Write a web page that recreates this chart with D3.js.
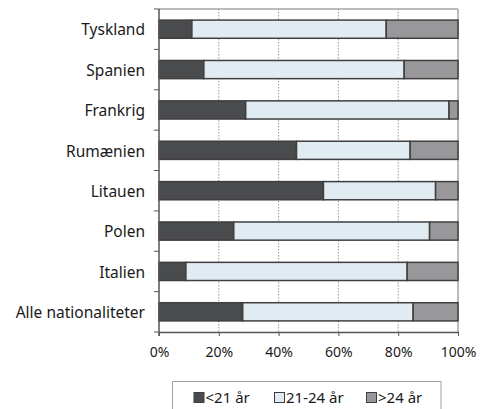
<!DOCTYPE html>
<html><head><meta charset="utf-8">
<script src="https://cdn.jsdelivr.net/npm/d3@7"></script>
<style>body{margin:0;background:#fff;} svg{display:block;}</style>
</head><body>
<script>
const categories = ["Tyskland","Spanien","Frankrig","Rumænien","Litauen","Polen","Italien","Alle nationaliteter"];
const seriesNames = ["<21 år","21-24 år",">24 år"];
const under21 = [11, 15, 29, 46, 55, 25, 9, 28];
const from21to24 = [65, 67, 68, 38, 37.5, 65.5, 74, 57];
const over24 = [24, 18, 3, 16, 7.5, 9.5, 17, 15];
const xTicks = [0, 0.2, 0.4, 0.6, 0.8, 1];
const colors = ["#4a4b4d", "#e1ebf2", "#98989b"];

(function () {
const W = 480, H = 409;
const mL = 159, mR = 458, mT = 9, mB = 332;
const font = "'Noto Sans', sans-serif";

const svg = d3.select("body").append("svg").attr("width", W).attr("height", H);

const x = d3.scaleLinear().domain([0, 1]).range([mL, mR]);
const y = d3.scaleBand().domain(categories).range([mT, mB]).paddingInner(0.55).paddingOuter(0.275);

// gridlines
svg.append("g").selectAll("line").data(xTicks.slice(1, -1)).join("line")
  .attr("x1", d => x(d)).attr("x2", d => x(d)).attr("y1", mT).attr("y2", mB)
  .attr("stroke", "#9a9a9a").attr("stroke-width", 1).attr("stroke-dasharray", "1.5,1.5");
// plot border top and right
svg.append("line").attr("x1", mL).attr("x2", mR).attr("y1", mT).attr("y2", mT)
  .attr("stroke", "#a6a6a6").attr("stroke-width", 1.5);
svg.append("line").attr("x1", mR).attr("x2", mR).attr("y1", mT).attr("y2", mB)
  .attr("stroke", "#a6a6a6").attr("stroke-width", 1.5);

// stacked data
const rows = categories.map((c, i) => ({cat: c, vals: [under21[i], from21to24[i], over24[i]]}));
const stackData = [];
rows.forEach(r => {
  const tot = d3.sum(r.vals);
  let acc = 0;
  r.vals.forEach((v, k) => {
    stackData.push({cat: r.cat, k, x0: acc / tot, x1: (acc + v) / tot});
    acc += v;
  });
});
svg.append("g").selectAll("rect").data(stackData).join("rect")
  .attr("x", d => x(d.x0)).attr("width", d => x(d.x1) - x(d.x0))
  .attr("y", d => y(d.cat)).attr("height", y.bandwidth())
  .attr("fill", d => colors[d.k]).attr("stroke", "#3f3f41").attr("stroke-width", 1.5);

// left axis
const boundaries = d3.range(categories.length + 1).map(i => mT + i * y.step());
svg.append("line").attr("x1", mL).attr("x2", mL).attr("y1", mT).attr("y2", mB + 4)
  .attr("stroke", "#555").attr("stroke-width", 1.5);
svg.append("g").selectAll("line").data(boundaries).join("line")
  .attr("x1", mL - 5).attr("x2", mL).attr("y1", d => d).attr("y2", d => d)
  .attr("stroke", "#555").attr("stroke-width", 1);
svg.append("g").selectAll("text").data(categories).join("text")
  .attr("x", 145).attr("y", d => y(d) + y.bandwidth() / 2).attr("dy", "0.4em")
  .attr("text-anchor", "end").attr("font-family", font).attr("font-size", 15.5).attr("fill", "#1a1a1a")
  .text(d => d);

// bottom axis
const xAxis = d3.axisBottom(x).tickValues(xTicks).tickFormat(d3.format(".0%")).tickSize(4).tickSizeOuter(0);
const gx = svg.append("g").attr("transform", `translate(0,${mB})`).call(xAxis);
gx.select(".domain").attr("stroke", "#555").attr("stroke-width", 1.5);
gx.selectAll(".tick line").attr("stroke", "#555");
gx.selectAll(".tick text").attr("font-family", font).attr("font-size", 14).attr("fill", "#1a1a1a")
  .attr("y", 25).attr("dy", null);

// legend
svg.append("rect").attr("x", 172.5).attr("y", 381.5).attr("width", 268.5).attr("height", 40)
  .attr("fill", "#fff").attr("stroke", "#a0a0a0").attr("stroke-width", 1);
const legX = [194, 274.5, 366.5];
const lg = svg.append("g").selectAll("g").data(seriesNames).join("g")
  .attr("transform", (d, i) => `translate(${legX[i]},392.5)`);
lg.append("rect").attr("width", 10).attr("height", 10)
  .attr("fill", (d, i) => colors[i]).attr("stroke", "#3f3f41").attr("stroke-width", 1);
lg.append("text").attr("x", 11.5).attr("y", 10.5)
  .attr("font-family", font).attr("font-size", 15).attr("fill", "#1a1a1a").text(d => d);
})();
</script>
</body></html>
